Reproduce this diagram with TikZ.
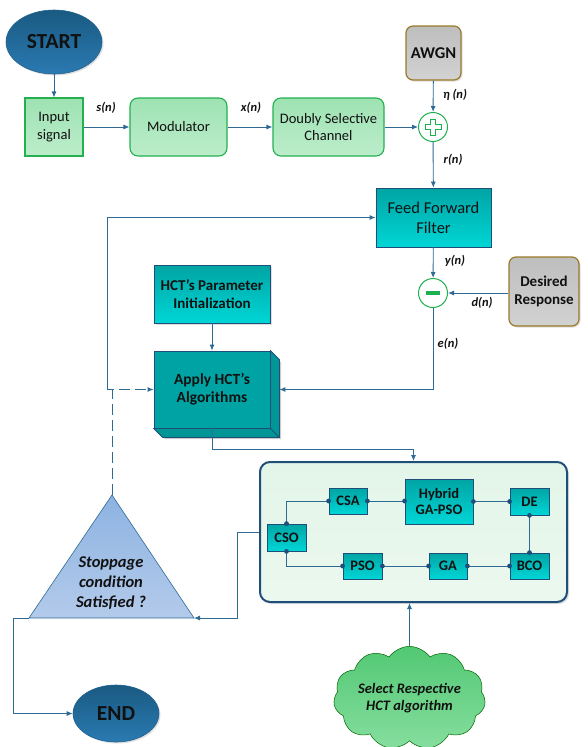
\documentclass[tikz,border=0pt]{standalone}
\usepackage{fontspec}
\setmainfont{Carlito}
\usetikzlibrary{arrows.meta,shapes.geometric,shapes.symbols,calc,shadows}
\definecolor{lineblue}{HTML}{2E6A94}
\definecolor{darkblue}{HTML}{1F4E79}
\definecolor{gbord}{HTML}{22B050}
\definecolor{gtop}{HTML}{9EE2B2}
\definecolor{gbot}{HTML}{BCEDCB}
\definecolor{ttop}{HTML}{00A4A4}
\definecolor{tbot}{HTML}{00D6D6}
\definecolor{tdark}{HTML}{00A3A3}
\definecolor{sttop}{HTML}{1A5A82}
\definecolor{stbot}{HTML}{2A7AB2}
\definecolor{graytop}{HTML}{BEBEBE}
\definecolor{graybot}{HTML}{D2D2D2}
\definecolor{brownb}{HTML}{9A7A2A}
\definecolor{tritop}{HTML}{8DB3E2}
\definecolor{tribot}{HTML}{B3CAEA}
\definecolor{cltop}{HTML}{52C874}
\definecolor{clbot}{HTML}{86DE9E}
\definecolor{panelfill}{HTML}{E3F5E8}
\definecolor{sumgreen}{HTML}{1DB04E}
\definecolor{txt}{HTML}{111111}
\tikzset{
  arr/.style={draw=lineblue, line width=0.9pt, -{Latex[length=6pt,width=5pt]}},
  conn/.style={draw=lineblue, line width=0.9pt},
  oval/.style={ellipse, draw=stbot!80!black, line width=0.6pt, top color=sttop, bottom color=stbot,
    font=\color{txt}\bfseries\fontsize{21.5}{25}\selectfont, text=txt, inner sep=0pt,
    drop shadow={opacity=0.25, shadow xshift=1.5pt, shadow yshift=-1.5pt}},
  greenbox/.style={draw=gbord, line width=1.1pt, top color=gtop, bottom color=gbot, align=center,
    font=\fontsize{14.5}{17.5}\selectfont, text=txt, inner sep=1pt},
  graybox/.style={draw=brownb, line width=1.2pt, rounded corners=7pt, top color=graytop, bottom color=graybot,
    align=center, inner sep=1pt, text=txt,
    drop shadow={opacity=0.25, shadow xshift=1.5pt, shadow yshift=-1.5pt}},
  tealbox/.style={draw=darkblue, line width=0.8pt, top color=ttop, bottom color=tbot, align=center, inner sep=1pt, text=txt},
  algbox/.style={draw=darkblue, line width=0.8pt, top color=ttop, bottom color=tbot, align=center, inner sep=1pt,
    font=\bfseries\fontsize{14.5}{16}\selectfont, minimum height=26pt, text=txt,
    drop shadow={opacity=0.3, shadow xshift=1.2pt, shadow yshift=-1.2pt}},
  sumnode/.style={circle, draw=sumgreen, line width=1pt, fill=white, minimum size=29pt, inner sep=0pt},
  lbl/.style={font=\bfseries\itshape\fontsize{12.5}{14}\selectfont, inner sep=0pt, text=txt},
  dot/.style={fill=darkblue}
}
\begin{document}
\begin{tikzpicture}[x=1pt,y=-1pt]
\useasboundingbox (0,0) rectangle (587,747);

% top row
\node[oval, minimum width=96pt, minimum height=64pt] (start) at (54,42) {START};
\node[greenbox, minimum width=58pt, minimum height=58pt] (input) at (54,127) {Input\\signal};
\node[greenbox, rounded corners=8pt, minimum width=97pt, minimum height=58pt] (mod) at (178.5,127) {Modulator};
\node[greenbox, rounded corners=8pt, minimum width=111pt, minimum height=58pt] (dsc) at (328.5,127) {Doubly Selective\\Channel};
\node[graybox, minimum width=55pt, minimum height=54pt, font=\bfseries\fontsize{16.5}{19}\selectfont] (awgn) at (433.5,53) {AWGN};
\node[sumnode] (add) at (433,127) {};
\draw[sumgreen, line width=1pt, shift={(add.center)}]
  (-2.6,-8) -- (2.6,-8) -- (2.6,-2.6) -- (8,-2.6) -- (8,2.6) -- (2.6,2.6) -- (2.6,8)
  -- (-2.6,8) -- (-2.6,2.6) -- (-8,2.6) -- (-8,-2.6) -- (-2.6,-2.6) -- cycle;

% filter and subtractor
\node[tealbox, minimum width=115pt, minimum height=59pt, font=\fontsize{16.5}{20}\selectfont] (fff) at (433.5,217.5) {Feed Forward\\Filter};
\node[sumnode] (sub) at (433,293) {};
\fill[sumgreen, shift={(sub.center)}] (-7,-2.2) rectangle (7,2.2);
\node[graybox, minimum width=70pt, minimum height=69pt, font=\bfseries\fontsize{15}{18}\selectfont] (des) at (544,291.5) {Desired\\Response};

% HCT boxes
\node[tealbox, minimum width=116pt, minimum height=58pt, font=\bfseries\fontsize{15}{17.5}\selectfont,
  drop shadow={opacity=0.25, shadow xshift=1.5pt, shadow yshift=-1.5pt}] (param) at (212,294) {HCT’s Parameter\\Initialization};
\fill[black, opacity=0.2] ($(154,351)+(2,2)$) -- ($(270,351)+(2,2)$) -- ($(279,360)+(2,2)$) -- ($(279,437)+(2,2)$) -- ($(163,437)+(2,2)$) -- ($(154,428)+(2,2)$) -- cycle;
\node[draw=darkblue, line width=0.8pt, fill=tdark, align=center, inner sep=1pt, minimum width=116pt, minimum height=77pt,
  font=\bfseries\fontsize{15.5}{18}\selectfont, text=txt] (apply) at (212,389.5) {Apply HCT’s\\Algorithms};
\filldraw[fill=tdark!92!black, draw=darkblue, line width=0.8pt]
  (apply.south west) -- ($(apply.south west)+(9,9)$) -- ($(apply.south east)+(9,9)$)
  -- ($(apply.north east)+(9,9)$) -- (apply.north east) -- (apply.south east) -- cycle;
\draw[darkblue, line width=0.8pt] (apply.south east) -- ++(9,9);
\coordinate (applyR) at ($(apply.east)+(9,0)$);

% algorithm panel
\node[draw=darkblue, line width=2pt, rounded corners=10pt, top color=panelfill, bottom color=panelfill!70!white,
  minimum width=307pt, minimum height=140pt,
  drop shadow={opacity=0.25, shadow xshift=2pt, shadow yshift=-2pt}] (panel) at (413.5,532) {};
\node[algbox, minimum width=38pt] (csa) at (348,501) {CSA};
\node[algbox, minimum width=68pt, minimum height=45pt] (hyb) at (439,501.5) {Hybrid\\GA-PSO};
\node[algbox, minimum width=39pt, minimum height=27pt] (de) at (529.5,501.5) {DE};
\node[algbox, minimum width=39pt, minimum height=27pt] (cso) at (286.5,537.5) {CSO};
\node[algbox, minimum width=39pt] (pso) at (362.5,566) {PSO};
\node[algbox, minimum width=38pt] (ga) at (448,566) {GA};
\node[algbox, minimum width=39pt] (bco) at (529.5,566) {BCO};
\draw[conn] (cso.north) |- (csa.west);
\draw[conn] (csa.east) -- (hyb.west |- csa.east);
\draw[conn] (hyb.east |- de.west) -- (de.west);
\draw[conn] (de.south) -- (bco.north);
\draw[conn] (bco.west) -- (ga.east);
\draw[conn] (ga.west) -- (pso.east);
\draw[conn] (cso.south) |- (pso.west);
\foreach \p in {cso.north,cso.south,csa.west,csa.east,de.west,de.south,bco.north,bco.west,ga.east,ga.west,pso.east,pso.west}
  \fill[dot] (\p) circle (2.4);
\fill[dot] (hyb.west |- csa.east) circle (2.4);
\fill[dot] (hyb.east |- de.west) circle (2.4);

% stoppage triangle
\coordinate (triA) at (112,495);
\coordinate (triL) at (29,618);
\coordinate (triR) at (194,618);
\path[top color=tritop, bottom color=tribot, draw=lineblue, line width=0.6pt] (triA) -- (triR) -- (triL) -- cycle;
\node[align=center, text=txt, font=\bfseries\itshape\fontsize{16.5}{20}\selectfont] (stoptext) at (111,583) {Stoppage\\condition\\Satisfied ?};

\node[oval, minimum width=86pt, minimum height=57pt] (end) at (116,713.5) {END};

\node[cloud, cloud puffs=11, cloud puff arc=110, aspect=1.7, draw=green!40!black, line width=0.5pt,
  top color=cltop, bottom color=clbot, minimum width=135pt, minimum height=80pt, inner sep=0pt, text=txt,
  align=center, font=\bfseries\itshape\fontsize{14.5}{17}\selectfont] (cloud) at (409.5,698) {Select Respective\\HCT algorithm};

% connectors
\draw[arr] (start) -- (input);
\draw[arr] (input) -- (mod);
\draw[arr] (mod) -- (dsc);
\draw[arr] (dsc) -- (add);
\draw[arr] (awgn) -- (add);
\draw[arr] (add) -- (fff);
\draw[arr] (fff) -- (sub);
\draw[arr] (des.west |- sub.east) -- (sub.east);
\draw[arr] (sub.south) |- (applyR);
\draw[arr] (param) -- (apply);
\coordinate (fbA) at (112,389.5);
\draw[arr] (fbA) -- ++(-5,0) |- (fff.west);
\draw[arr, dash pattern=on 11pt off 5pt] (triA) |- (apply.west);
\draw[arr] (apply.south) -- ++(0,21) -| (panel.north);
\draw[arr] (panel.west) -- ++(-22,0) |- (triR);
\draw[arr] (triL) -- ++(-16,0) |- (end.west);
\draw[arr] (cloud.north) -- (cloud.north |- panel.south);

% labels
\node[lbl] (lsn) at (106,108) {s(n)};
\node[lbl] (lxn) at (251,108) {x(n)};
\node[lbl] (leta) at (455,95) {η (n)};
\node[lbl] (lrn) at (453,160) {r(n)};
\node[lbl] (lyn) at (455,261) {y(n)};
\node[lbl] (ldn) at (482,303) {d(n)};
\node[lbl] (len) at (448,344) {e(n)};
\end{tikzpicture}
\end{document}
